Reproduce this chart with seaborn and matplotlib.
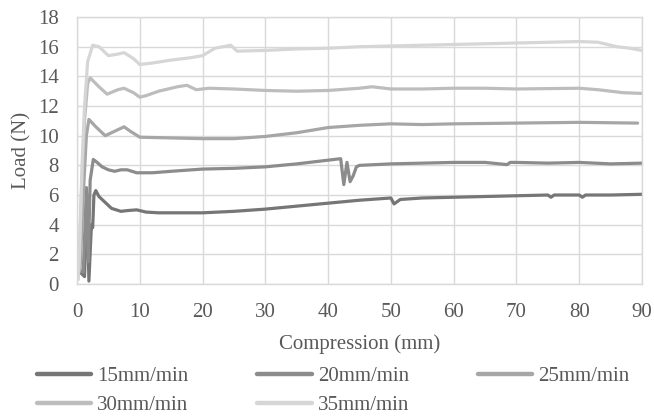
import matplotlib
matplotlib.use("Agg")
import matplotlib.pyplot as plt
import seaborn as sns
import pandas as pd

series_names = ["15mm/min", "20mm/min", "25mm/min", "30mm/min", "35mm/min"]
colors = ["#767676", "#8c8c8c", "#a6a6a6", "#bdbdbd", "#d6d6d6"]

x15 = [0.5, 1.2, 1.6, 1.9, 2.3, 2.5, 2.7, 3.0, 3.5, 4.5, 5.5, 7, 8, 9.5, 11, 13, 20, 25, 30, 35, 40, 45,
       50, 50.5, 51.5, 55, 60, 65, 70, 75, 75.5, 76, 80, 80.5, 81, 85, 90]
y15 = [0.8, 0.5, 6.0, 0.2, 4.0, 3.8, 6.0, 6.3, 5.9, 5.5, 5.1, 4.9, 4.95, 5.0, 4.85, 4.8, 4.8, 4.9, 5.05, 5.25, 5.45, 5.65,
       5.8, 5.4, 5.7, 5.8, 5.85, 5.9, 5.95, 6.0, 5.85, 6.0, 6.0, 5.85, 6.0, 6.0, 6.05]

x20 = [0.3, 1.0, 1.5, 1.8, 2.1, 2.6, 3.2, 4, 5, 6, 7, 8, 9.5, 12, 15, 20, 25, 30, 35, 40, 42,
       42.5, 43, 43.5, 44, 44.5, 45, 50, 55, 60, 65, 68.5, 69, 70, 75, 80, 85, 90]
y20 = [1.0, 0.8, 6.5, 1.5, 7.0, 8.4, 8.2, 7.9, 7.7, 7.6, 7.7, 7.7, 7.5, 7.5, 7.6, 7.75, 7.8, 7.9, 8.1, 8.35, 8.45,
       6.7, 8.2, 6.9, 7.3, 7.9, 8.0, 8.1, 8.15, 8.2, 8.2, 8.05, 8.2, 8.2, 8.15, 8.2, 8.1, 8.15]

x25 = [0.5, 1.0, 1.5, 1.9, 3.0, 4.5, 6, 7.5, 8.5, 10, 15, 20, 25, 30, 35, 40, 45, 50, 55, 60, 70, 80, 89.3]
y25 = [1.0, 6.0, 10.0, 11.1, 10.6, 10.0, 10.3, 10.6, 10.3, 9.9, 9.85, 9.8, 9.8, 9.95, 10.2, 10.55, 10.7, 10.8, 10.75,
       10.8, 10.85, 10.9, 10.85]

x30 = [0.3, 0.7, 1.2, 1.7, 2.1, 3.5, 4.8, 6.5, 7.5, 9, 10, 11, 13, 16, 17.5, 19, 21, 25, 30, 35, 40, 45, 47,
       50, 55, 60, 65, 70, 80, 83, 87, 90]
y30 = [0.8, 6.0, 11.0, 13.5, 13.9, 13.3, 12.8, 13.1, 13.2, 12.9, 12.6, 12.7, 13.0, 13.3, 13.4, 13.1, 13.2, 13.15,
       13.05, 13.0, 13.05, 13.2, 13.3, 13.15, 13.15, 13.2, 13.2, 13.15, 13.2, 13.1, 12.9, 12.85]

x35 = [0.2, 0.4, 0.8, 1.2, 1.7, 2.5, 3.5, 5, 6.5, 7.5, 9, 10, 12, 15, 18, 20, 22, 24.5, 25.5, 30, 35, 40,
       45, 50, 55, 60, 65, 70, 75, 80, 83, 86, 88, 90]
y35 = [0.3, 2.0, 8.0, 12.0, 15.0, 16.1, 16.0, 15.4, 15.5, 15.6, 15.2, 14.8, 14.9, 15.1, 15.25, 15.4, 15.9, 16.1,
       15.7, 15.75, 15.85, 15.9, 16.0, 16.05, 16.1, 16.15, 16.2, 16.25, 16.3, 16.35, 16.3, 16.0, 15.9, 15.75]

x_ticks = [0, 10, 20, 30, 40, 50, 60, 70, 80, 90]
y_ticks = [0, 2, 4, 6, 8, 10, 12, 14, 16, 18]

frames = []
for name, xs, ys in zip(series_names, [x15, x20, x25, x30, x35], [y15, y20, y25, y30, y35]):
    frames.append(pd.DataFrame({"Compression": xs, "Load": ys, "Rate": name}))
df = pd.concat(frames, ignore_index=True)

sns.set_theme(style="white")
plt.rcParams["font.family"] = ["Liberation Serif", "DejaVu Serif"]

fig = plt.figure(figsize=(6.54, 4.16), dpi=100)
ax = fig.add_axes([0.1177, 0.3173, 0.864, 0.6417])

sns.lineplot(data=df, x="Compression", y="Load", hue="Rate", hue_order=series_names,
             palette=dict(zip(series_names, colors)), estimator=None, sort=False,
             linewidth=2.3, ax=ax, legend=False)

ax.set_xlim(0, 90)
ax.set_ylim(0, 18)
ax.set_xticks(x_ticks)
ax.set_yticks(y_ticks)
ax.grid(True, color="#d9d9d9", linewidth=1.0)
ax.set_axisbelow(True)
for s in ax.spines.values():
    s.set_color("#d9d9d9")
    s.set_linewidth(1.0)
ax.tick_params(axis="both", length=0, labelsize=15, colors="#595959")
ax.tick_params(axis="x", pad=13.5)
ax.tick_params(axis="y", pad=13)
ax.set_xlabel("Compression (mm)", fontsize=15, color="#595959", labelpad=9)
ax.set_ylabel("Load (N)", fontsize=15, color="#595959", labelpad=5)

handles = ax.get_lines()[:5]
order = [0, 3, 1, 4, 2]
leg = fig.legend([handles[i] for i in order], [series_names[i] for i in order],
                 ncol=3, loc="upper left", bbox_to_anchor=(0.0566, 0.118), frameon=False,
                 borderpad=0, borderaxespad=0,
                 fontsize=15, handlelength=2.6, columnspacing=3.3, handletextpad=0.3,
                 labelspacing=0.42)
for t in leg.get_texts():
    t.set_color("#595959")
for l in leg.get_lines():
    l.set_linewidth(3.2)

fig.savefig("out.png", dpi=100)
